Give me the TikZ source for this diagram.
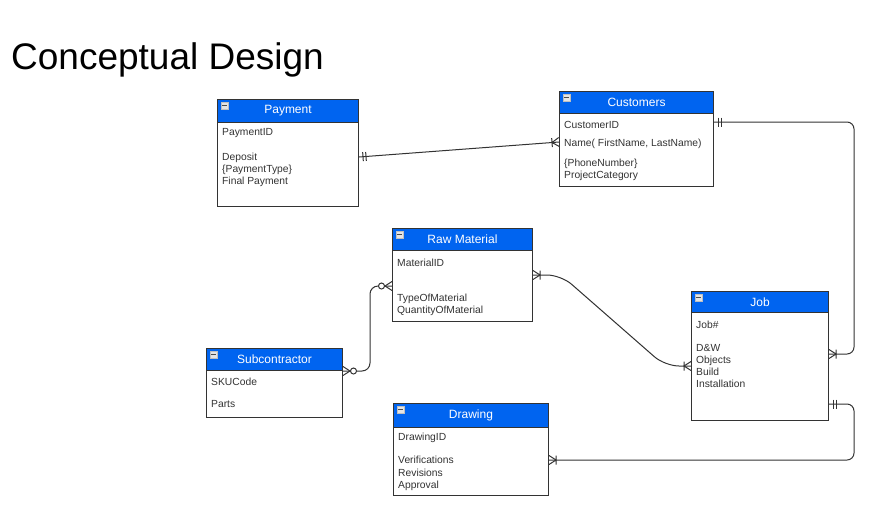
\documentclass[tikz,border=0pt]{standalone}
\usepackage{fontspec}
\setmainfont{Liberation Sans}
\usetikzlibrary{calc,decorations.markings}
\definecolor{hdrblue}{RGB}{0,100,240}
\definecolor{edgec}{RGB}{51,51,51}
\definecolor{attrc}{RGB}{51,51,51}
\tikzset{
  ebox/.style={draw=edgec, fill=white, line width=1pt, anchor=north west, inner sep=0pt},
  hdr/.style={draw=edgec, fill=hdrblue, line width=1pt, anchor=north west, inner sep=0pt,
    text=white, font=\fontsize{12}{14}\selectfont, minimum height=22pt},
  icon/.style={draw=gray!50, fill=gray!20, minimum size=6.5pt, inner sep=0pt, line width=0.5pt},
  iconbar/.style={draw=gray!60!black, line width=1.3pt},
  attrtext/.style={anchor=base west, inner sep=0pt, text=attrc, font=\fontsize{10.3}{12}\selectfont},
  erline/.style={draw=edgec, line width=1pt},
  mk/.style={draw=edgec, line width=1pt, sharp corners},
  onestart/.style={postaction={decorate, decoration={markings, mark=at position 0 with
    {\draw[mk] (4,-4.5) -- (4,4.5) (7,-4.5) -- (7,4.5);}}}},
  manystart/.style={postaction={decorate, decoration={markings, mark=at position 0 with
    {\draw[mk] (0,-4.5) -- (7,0) -- (0,4.5) (7,-4.5) -- (7,4.5);}}}},
  manyend/.style={postaction={decorate, decoration={markings, mark=at position 0.99999 with
    {\draw[mk] (0,-4.5) -- (-7,0) -- (0,4.5) (-7,-4.5) -- (-7,4.5);}}}},
  zerostart/.style={postaction={decorate, decoration={markings, mark=at position 0 with
    {\draw[mk] (0,-4.5) -- (7,0) -- (0,4.5); \draw[mk, fill=white] (10.5,0) circle (3);}}}},
  zeroend/.style={postaction={decorate, decoration={markings, mark=at position 0.99999 with
    {\draw[mk] (0,-4.5) -- (-7,0) -- (0,4.5); \draw[mk, fill=white] (-10.5,0) circle (3);}}}},
}
\begin{document}
\begin{tikzpicture}[x=1pt,y=-1pt]
\useasboundingbox[fill=white] (0,0) rectangle (880,520);

\node[anchor=base west, inner sep=0pt, font=\fontsize{37}{40}\selectfont] (title) at (11,69) {Conceptual Design};

% Payment
\node[ebox, minimum width=141pt, minimum height=107pt] (pay) at (217,99) {};
\node[hdr, minimum width=141pt, minimum height=23pt] (payh) at (pay.north west) {Payment};
\node[icon] (payi) at ($(payh.north west)+(7.5,6.5)$) {};
\draw[iconbar] ([xshift=1.2pt]payi.west) -- ([xshift=-1.2pt]payi.east);
\node[attrtext] at ($(pay.north west)+(5,36.7)$) {PaymentID};
\node[attrtext] at ($(pay.north west)+(5,61.7)$) {Deposit};
\node[attrtext] at ($(pay.north west)+(5,73.7)$) {\{PaymentType\}};
\node[attrtext] at ($(pay.north west)+(5,85.7)$) {Final Payment};

% Customers
\node[ebox, minimum width=154pt, minimum height=95pt] (cust) at (559,91) {};
\node[hdr, minimum width=154pt] (custh) at (cust.north west) {Customers};
\node[icon] (custi) at ($(custh.north west)+(7.5,6.5)$) {};
\draw[iconbar] ([xshift=1.2pt]custi.west) -- ([xshift=-1.2pt]custi.east);
\node[attrtext] at ($(cust.north west)+(5,37.7)$) {CustomerID};
\node[attrtext] at ($(cust.north west)+(5,55.7)$) {Name( FirstName, LastName)};
\node[attrtext] at ($(cust.north west)+(5,75.7)$) {\{PhoneNumber\}};
\node[attrtext] at ($(cust.north west)+(5,87.7)$) {ProjectCategory};

% Raw Material
\node[ebox, minimum width=140pt, minimum height=93pt] (raw) at (392,228) {};
\node[hdr, minimum width=140pt] (rawh) at (raw.north west) {Raw Material};
\node[icon] (rawi) at ($(rawh.north west)+(7.5,6.5)$) {};
\draw[iconbar] ([xshift=1.2pt]rawi.west) -- ([xshift=-1.2pt]rawi.east);
\node[attrtext] at ($(raw.north west)+(5,38.7)$) {MaterialID};
\node[attrtext] at ($(raw.north west)+(5,73.7)$) {TypeOfMaterial};
\node[attrtext] at ($(raw.north west)+(5,85.7)$) {QuantityOfMaterial};

% Subcontractor
\node[ebox, minimum width=136pt, minimum height=69pt] (sub) at (206,348) {};
\node[hdr, minimum width=136pt] (subh) at (sub.north west) {Subcontractor};
\node[icon] (subi) at ($(subh.north west)+(7.5,6.5)$) {};
\draw[iconbar] ([xshift=1.2pt]subi.west) -- ([xshift=-1.2pt]subi.east);
\node[attrtext] at ($(sub.north west)+(5,37.7)$) {SKUCode};
\node[attrtext] at ($(sub.north west)+(5,59.7)$) {Parts};

% Drawing
\node[ebox, minimum width=155pt, minimum height=92pt] (drw) at (393,403) {};
\node[hdr, minimum width=155pt, minimum height=24pt] (drwh) at (drw.north west) {Drawing};
\node[icon] (drwi) at ($(drwh.north west)+(7.5,6.5)$) {};
\draw[iconbar] ([xshift=1.2pt]drwi.west) -- ([xshift=-1.2pt]drwi.east);
\node[attrtext] at ($(drw.north west)+(5,37.7)$) {DrawingID};
\node[attrtext] at ($(drw.north west)+(5,60.7)$) {Verifications};
\node[attrtext] at ($(drw.north west)+(5,73.7)$) {Revisions};
\node[attrtext] at ($(drw.north west)+(5,85.7)$) {Approval};

% Job
\node[ebox, minimum width=137pt, minimum height=129pt] (job) at (691,291) {};
\node[hdr, minimum width=137pt, minimum height=21pt] (jobh) at (job.north west) {Job};
\node[icon] (jobi) at ($(jobh.north west)+(7.5,6.5)$) {};
\draw[iconbar] ([xshift=1.2pt]jobi.west) -- ([xshift=-1.2pt]jobi.east);
\node[attrtext] at ($(job.north west)+(5,37.7)$) {Job\#};
\node[attrtext] at ($(job.north west)+(5,60.7)$) {D\&W};
\node[attrtext] at ($(job.north west)+(5,72.7)$) {Objects};
\node[attrtext] at ($(job.north west)+(5,84.7)$) {Build};
\node[attrtext] at ($(job.north west)+(5,96.7)$) {Installation};

% Connectors
\draw[erline, onestart, manyend] ($(pay.north east)+(0,58)$) -- ($(cust.north west)+(0,51)$);
\draw[erline, rounded corners=7, onestart, manyend]
  ($(cust.north east)+(0,31)$) -- ++(140,0) |- ($(job.north east)+(0,63)$);
\draw[erline, rounded corners=8, zerostart, zeroend]
  ($(sub.north east)+(0,23)$) -- ++(27,0) |- ($(raw.north west)+(0,58)$);
\draw[erline, rounded corners=14, manystart, manyend]
  ($(raw.north east)+(0,47)$) -- ++(28,0) -- ($(job.north west)+(-26,75)$) -- ($(job.north west)+(0,75)$);
\draw[erline, rounded corners=7, onestart, manyend]
  ($(job.north east)+(0,113)$) -- ++(25,0) |- ($(drw.north east)+(0,57)$);
\end{tikzpicture}
\end{document}
